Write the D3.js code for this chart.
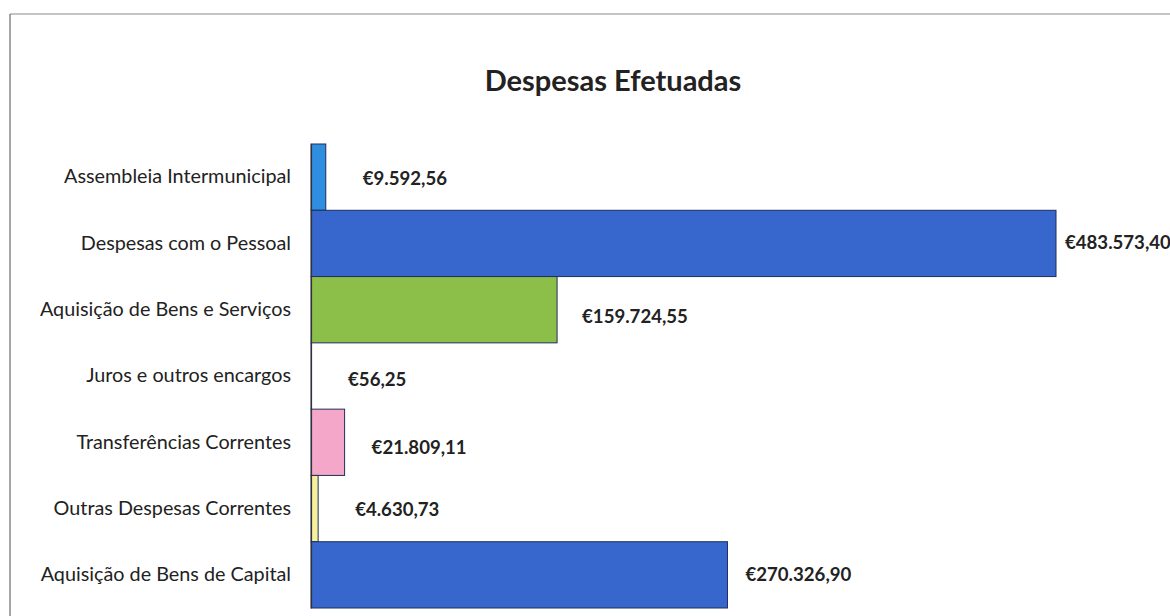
<!DOCTYPE html>
<html>
<head>
<meta charset="utf-8">
<script src="https://cdn.jsdelivr.net/npm/d3@7"></script>
<style>
  body { margin: 0; background: #fff; }
  svg { display: block; }
  .cat { font-family: Lato, "Open Sans", sans-serif; font-size: 19.8px; fill: #222; }
  .val { font-family: Lato, "Open Sans", sans-serif; font-size: 18.6px; font-weight: bold; fill: #222; }
  .title { font-family: Lato, "Open Sans", sans-serif; font-size: 29px; font-weight: bold; fill: #222; }
</style>
</head>
<body>
<div id="chart"></div>
<script>
// chart values
var categories = [
  "Assembleia Intermunicipal",
  "Despesas com o Pessoal",
  "Aquisição de Bens e Serviços",
  "Juros e outros encargos",
  "Transferências Correntes",
  "Outras Despesas Correntes",
  "Aquisição de Bens de Capital"
];
var values = [9592.56, 483573.40, 159724.55, 56.25, 21809.11, 4630.73, 270326.90];
var valueLabels = ["€9.592,56", "€483.573,40", "€159.724,55", "€56,25", "€21.809,11", "€4.630,73", "€270.326,90"];
var barColors = ["#2f8ee0", "#3767cc", "#8bbf4a", "#c0504d", "#f4a7c9", "#f6f09e", "#3767cc"];
// manual nudges of the data labels (as in the original)
var labelDx = [37, 9, 25, 37, 27, 37, 18];
var labelDy = [1, -1, 7, 3, 5, 1, 0];

var W = 1170, H = 616;
var svg = d3.select("#chart").append("svg")
  .attr("width", W)
  .attr("height", H);

// frame (top + left edges visible)
svg.append("line").attr("x1", 10).attr("y1", 14).attr("x2", W).attr("y2", 14)
  .attr("stroke", "#8a8a8a").attr("stroke-width", 1.2);
svg.append("line").attr("x1", 10).attr("y1", 14).attr("x2", 10).attr("y2", H)
  .attr("stroke", "#6a6a6a").attr("stroke-width", 1.2);

svg.append("text").attr("class", "title")
  .attr("x", 613).attr("y", 91)
  .attr("text-anchor", "middle")
  .text("Despesas Efetuadas");

var x = d3.scaleLinear().domain([0, d3.max(values)]).range([311, 1056]);
var y = d3.scaleBand().domain(categories).range([144, 608]).padding(0);

var bars = svg.append("g");
bars.selectAll("rect")
  .data(values)
  .enter().append("rect")
  .attr("x", x(0))
  .attr("y", function(d, i){ return y(categories[i]); })
  .attr("width", function(d){ return x(d) - x(0); })
  .attr("height", y.bandwidth())
  .attr("fill", function(d, i){ return barColors[i]; })
  .attr("stroke", "#1f2f5a")
  .attr("stroke-width", 1);

// category axis
var axis = svg.append("g")
  .attr("transform", "translate(" + x(0) + ",0)")
  .call(d3.axisLeft(y).tickSize(0).tickPadding(20));
axis.select(".domain").attr("stroke", "#333").attr("stroke-width", 1.2);
axis.selectAll("text").attr("class", "cat").attr("font-family", null).attr("font-size", null).attr("fill", null);

// data labels
svg.append("g").selectAll("text")
  .data(values)
  .enter().append("text")
  .attr("class", "val")
  .attr("x", function(d, i){ return x(d) + labelDx[i]; })
  .attr("y", function(d, i){ return y(categories[i]) + y.bandwidth() / 2 + labelDy[i]; })
  .attr("dy", "0.35em")
  .text(function(d, i){ return valueLabels[i]; });
</script>
</body>
</html>
